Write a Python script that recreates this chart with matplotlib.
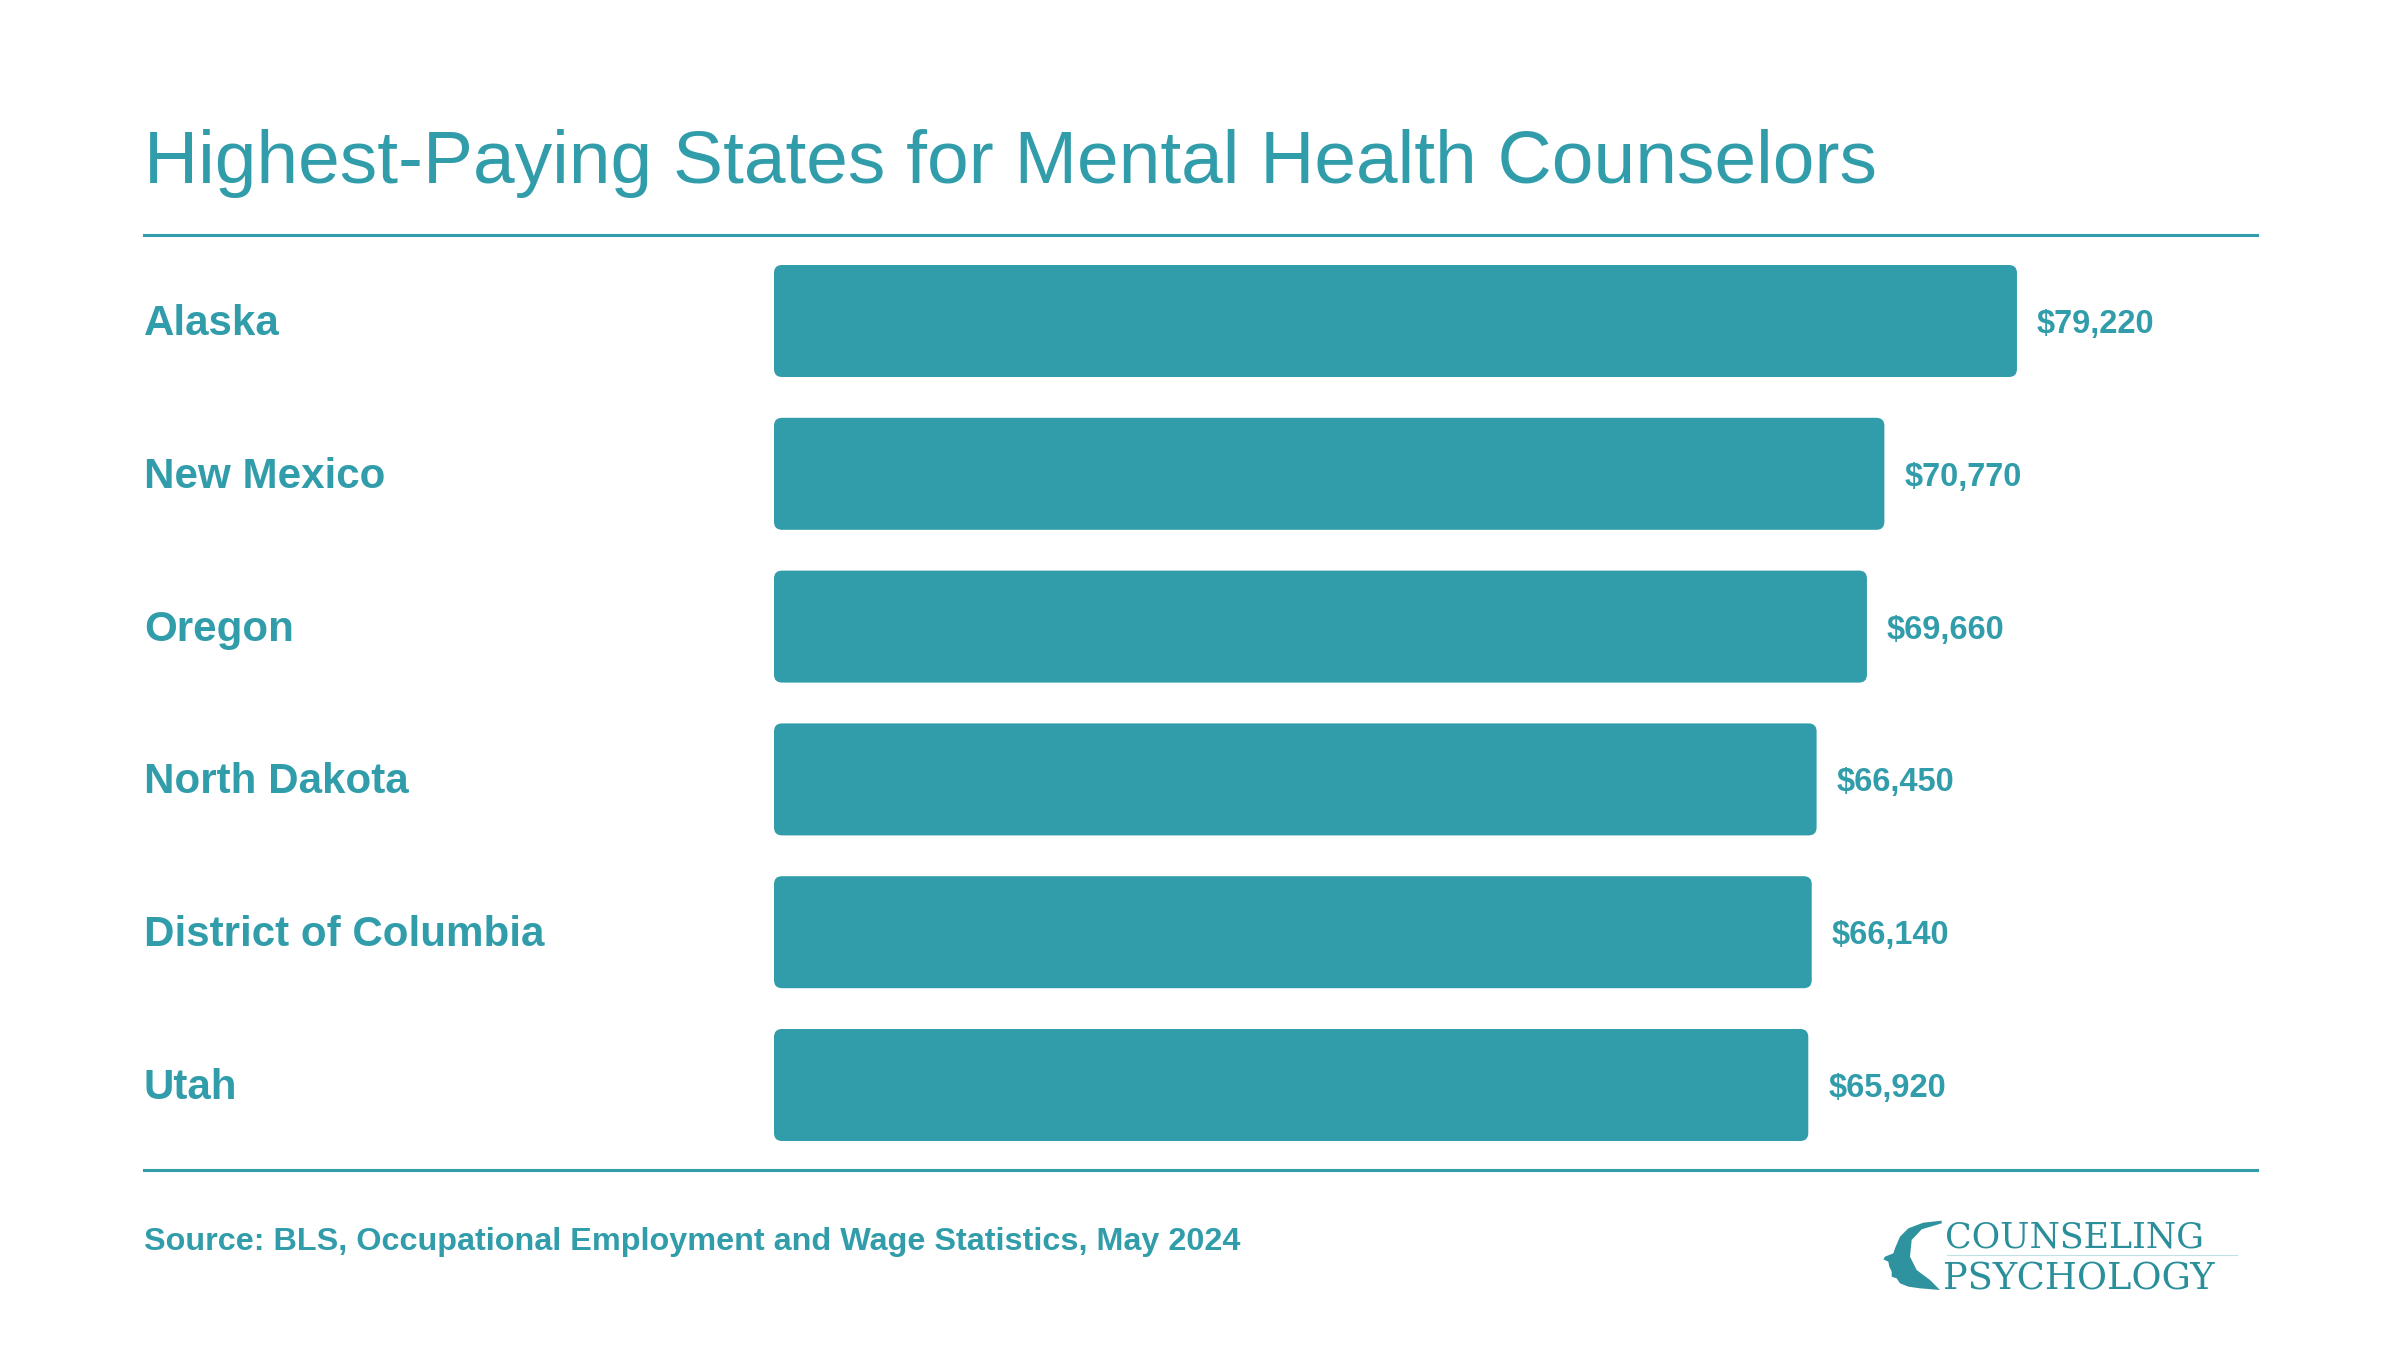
import matplotlib
matplotlib.use("Agg")
import matplotlib.pyplot as plt
from matplotlib.patches import FancyBboxPatch, Polygon
from matplotlib.lines import Line2D
import matplotlib.transforms as mtransforms

states = ["Alaska", "New Mexico", "Oregon", "North Dakota", "District of Columbia", "Utah"]
wages = [79220, 70770, 69660, 66450, 66140, 65920]
wage_labels = ["$79,220", "$70,770", "$69,660", "$66,450", "$66,140", "$65,920"]
title = "Highest-Paying States for Mental Health Counselors"
source = "Source: BLS, Occupational Employment and Wage Statistics, May 2024"

teal = "#329DAA"
W, H = 2400, 1350
plt.rcParams['font.family'] = ['Liberation Sans', 'DejaVu Sans']

fig = plt.figure(figsize=(24, 13.5), dpi=100)
fig.patch.set_facecolor("white")

# overlay axes in pixel coordinates for the decorations
deco = fig.add_axes([0, 0, 1, 1])
deco.set_xlim(0, W)
deco.set_ylim(H, 0)
deco.axis("off")

# bar axes: x=0 at 774px, 0.01569 px per dollar
px_per_dollar = 0.01569
row_px = 152.8
ax_left, ax_right = 774, 2257
ax_top, ax_bot = 244.6, 1161.4
ax = fig.add_axes([ax_left / W, 1 - ax_bot / H, (ax_right - ax_left) / W, (ax_bot - ax_top) / H])
ax.set_xlim(0, (ax_right - ax_left) / px_per_dollar)
ax.set_ylim(len(states) - 0.5, -0.5)
ax.axis("off")

ypos = list(range(len(states)))
bars = ax.barh(ypos, wages, height=0.733, color=teal)
rad_x = 8 / px_per_dollar
rad_y = 8 / row_px
for b in bars:
    x0, y0 = b.get_x(), b.get_y()
    w, h = b.get_width(), b.get_height()
    b.remove()
    ax.add_patch(FancyBboxPatch((x0, y0), w, h,
                                boxstyle="round,pad=0,rounding_size=%f" % rad_x,
                                mutation_aspect=rad_y / rad_x,
                                fc=teal, ec="none"))

gap = 20 / px_per_dollar
for i, (v, lab) in enumerate(zip(wages, wage_labels)):
    ax.text(v + gap, i + 12 / row_px, lab, ha="left", va="baseline", fontsize=23.5,
            fontweight="bold", color=teal)

trans = mtransforms.blended_transform_factory(deco.transData, ax.transData)
for i, s in enumerate(states):
    ax.text(144, i + 14 / row_px, s, transform=trans, ha="left", va="baseline",
            fontsize=30.3, fontweight="bold", color=teal)

# title, rules and source
deco.text(144, 183, title, ha="left", va="baseline", fontsize=54, color=teal)
deco.add_line(Line2D([144, 2257], [235, 235], lw=2.2, color=teal))
deco.add_line(Line2D([144, 2257], [1170, 1170], lw=2.2, color=teal))
deco.text(144, 1250, source, ha="left", va="baseline", fontsize=23.3,
          fontweight="bold", color=teal)

# logo
def zp(x, y):
    return (1850 + x / 3, 1190 + y / 3)

head = [(275, 92), (220, 98), (175, 115), (150, 140), (135, 175), (130, 190),
        (105, 200), (100, 208), (115, 215), (118, 230), (125, 245), (125, 260),
        (140, 265), (150, 280), (175, 290), (210, 295), (270, 300),
        (240, 270), (200, 240), (180, 200), (185, 150), (215, 118), (275, 100)]
deco.add_patch(Polygon([zp(x, y) for x, y in head], closed=True, fc="#2E939E", ec="none"))
deco.text(1945, 1247, "COUNSELING", ha="left", va="baseline", fontsize=25,
          family="DejaVu Serif", color="#2A8F9A")
deco.add_line(Line2D([1947, 2237], [1255, 1255], lw=0.8, color="#BFE0E4"))
deco.text(1943, 1290, "PSYCHOLOGY", ha="left", va="baseline", fontsize=26.5,
          family="DejaVu Serif", color="#2A8F9A")

fig.savefig("out.png", dpi=100, facecolor="white")
